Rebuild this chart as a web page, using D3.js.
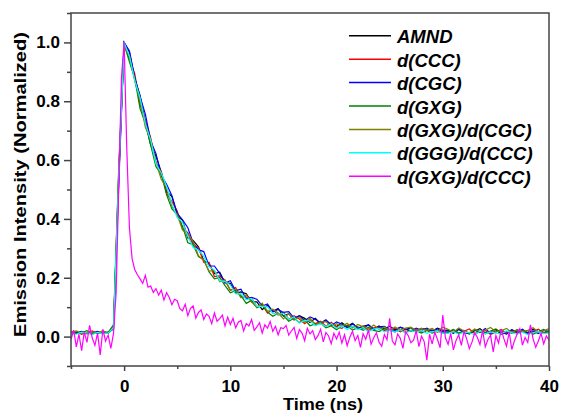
<!DOCTYPE html>
<html>
<head>
<meta charset="utf-8">
<script src="https://cdn.jsdelivr.net/npm/d3@7/dist/d3.min.js"></script>
<style>
body { margin: 0; background: #fff; }
svg text { font-family: "Liberation Sans", Arial, sans-serif; font-weight: bold; fill: #000; }
</style>
</head>
<body>
<div id="chart"></div>
<script>
// time axis (ns) for the six overlapping decays and for the fast magenta one
const tMain = [-5,-4.5,-4,-3.5,-3,-2.5,-2,-1.5,-1,-0.5,0,0.5,1,1.5,2,2.5,3,3.5,4,4.5,5,5.5,6,6.5,7,7.5,8,8.5,9,9.5,10,10.5,11,11.5,12,12.5,13,13.5,14,14.5,15,15.5,16,16.5,17,17.5,18,18.5,19,19.5,20,20.5,21,21.5,22,22.5,23,23.5,24,24.5,25,25.5,26,26.5,27,27.5,28,28.5,29,29.5,30,30.5,31,31.5,32,32.5,33,33.5,34,34.5,35,35.5,36,36.5,37,37.5,38,38.5,39,39.5,40];
const tMag = [-5,-4.75,-4.5,-4.25,-4,-3.75,-3.5,-3.25,-3,-2.75,-2.5,-2.25,-2,-1.75,-1.5,-1.25,-1,-0.75,-0.5,-0.25,
  0,0.25,0.5,0.75,1,1.25,1.5,1.75,2,2.25,2.5,2.75,3,3.25,3.5,3.75,4,4.25,4.5,4.75,
  5,5.25,5.5,5.75,6,6.25,6.5,6.75,7,7.25,7.5,7.75,8,8.25,8.5,8.75,9,9.25,9.5,9.75,
  10,10.25,10.5,10.75,11,11.25,11.5,11.75,12,12.25,12.5,12.75,13,13.25,13.5,13.75,14,14.25,14.5,14.75,
  15,15.25,15.5,15.75,16,16.25,16.5,16.75,17,17.25,17.5,17.75,18,18.25,18.5,18.75,19,19.25,19.5,19.75,
  20,20.25,20.5,20.75,21,21.25,21.5,21.75,22,22.25,22.5,22.75,23,23.25,23.5,23.75,24,24.25,24.5,24.75,
  25,25.25,25.5,25.75,26,26.25,26.5,26.75,27,27.25,27.5,27.75,28,28.25,28.5,28.75,29,29.25,29.5,29.75,
  30,30.25,30.5,30.75,31,31.25,31.5,31.75,32,32.25,32.5,32.75,33,33.25,33.5,33.75,34,34.25,34.5,34.75,
  35,35.25,35.5,35.75,36,36.25,36.5,36.75,37,37.25,37.5,37.75,38,38.25,38.5,38.75,39,39.25,39.5,39.75,40];

// normalized intensity x 1000
const amnd = [15,10,18,12,9,16,13,11, 28,540,1000,
  967,877,820,732,651,614,559,493,476,414, 395,335,327,305,258,247,214,219,183,181,
  147,152,146,118,118,92,106,86,95,69, 78,57,71,62,48,62,44,55,41,34,
  47,34,45,29,35,40,26,36,26,35, 23,32,24,30,20,28,25,19,29,21,
  22,11,25,14,9,20,27,12,17,24,8,15,23,13,19,10,26,16,11,21];
const dCCC = [12,17,8,14,19,10,15,13, 35,560,990,
  944,894,788,735,676,591,561,486,459,427, 367,353,310,302,252,252,204,206,192,157,
  167,134,134,132,101,110,80,92,73,83, 59,71,60,44,57,44,52,35,49,33,
  28,39,34,25,36,21,30,32,20,25, 28,16,24,17,26,15,21,23,15,22,
  14,23,9,18,26,11,15,21,7,16,24,12,19,13,22,9,17,25,12,18];
const dCGC = [9,14,16,11,13,18,10,15, 25,520,1000,
  971,881,816,756,665,622,547,518,479,419, 397,370,318,295,289,240,240,215,182,190,
  156,161,128,133,127,104,111,84,92,82, 85,63,71,54,67,59,46,57,38,50,
  42,30,43,32,27,40,24,33,35,24, 21,31,26,20,29,21,29,19,26,18,
  20,12,24,16,9,22,14,27,11,19,18,8,23,15,25,12,19,10,21,16];
const dGXG = [18,11,13,20,10,12,17,14, 40,580,995,
  934,878,775,725,651,577,552,482,434,415, 374,319,312,272,261,220,196,201,173,149,
  156,139,113,123,98,106,83,69,79,71, 52,62,48,58,37,43,46,30,36,23,
  37,37,22,30,21,32,21,17,27,21, 16,23,14,21,19,12,21,12,18,13,
  16,24,12,20,10,23,17,9,19,26,13,18,11,22,15,20,8,17,24,13];
const dGXG_CGC = [14,19,12,9,16,13,20,11, 32,570,985,
  955,869,802,711,669,592,534,507,442,413, 362,348,323,275,259,223,224,186,192,158,
  161,132,142,117,100,114,86,93,80,60, 78,58,67,48,63,39,49,51,34,44,
  35,45,29,41,33,26,39,25,33,21, 33,22,29,32,20,28,21,28,17,32,
  25,15,29,19,13,26,18,22,31,16,20,28,14,24,18,21,30,15,20,27];
const dGGG_CCC = [11,8,15,13,7,14,10,12, 30,550,1000,
  953,871,812,724,668,587,556,510,451,404, 389,340,303,294,273,237,226,190,187,176,
  145,146,126,130,103,103,101,79,76,79, 59,67,46,55,53,37,44,34,44,28,
  36,24,35,24,30,16,26,28,16,22, 15,23,12,20,15,20,11,17,18,11,
  11,17,8,15,13,6,18,10,16,12,9,19,13,8,15,7,14,17,10,12];
const dGXG_CCC = [-10,22,-35,8,-48,15,-20,38,-5,-30,12,-62,25,-15,5,-40,10,150,520,880,
  1000,640,370,265,228,210,196,181,208,168,172,150,163,141,158,124,149,133,108,127,
  122,95,88,110,71,96,104,63,82,91,58,77,69,44,80,52,61,73,36,66,
  41,62,30,49,55,19,44,36,58,21,33,47,12,40,29,51,18,35,6,30,
  27,38,5,19,31,-6,24,12,-14,28,9,20,-10,3,25,-18,14,2,-24,11,
  -8,15,-22,6,-31,-2,18,-14,4,-37,10,-9,22,-26,-4,13,-19,-33,7,-11,
  62,-15,-28,9,-6,-40,16,3,-21,-12,20,-34,1,-17,-80,8,-25,14,-9,-38,
  73,-4,-26,11,-45,-13,6,-30,18,-8,-41,-19,12,-2,-27,21,-35,-10,4,-52,
  3,-22,24,-7,-33,15,-44,-14,9,27,-29,-3,-20,40,-8,-36,-15,11,-25,2,-12];

const seriesNames = ["AMND", "d(CCC)", "d(CGC)", "d(GXG)", "d(GXG)/d(CGC)", "d(GGG)/d(CCC)", "d(GXG)/d(CCC)"];
const seriesColors = ["#000000", "#ff0000", "#0000ff", "#008000", "#808000", "#00ffff", "#ff00ff"];

const xMajorTicks = [0, 10, 20, 30, 40];
const xMinorTicks = [-5, 5, 15, 25, 35];
const yMajorTicks = [0, 0.2, 0.4, 0.6, 0.8, 1.0];
const yMinorTicks = [-0.1, 0.1, 0.3, 0.5, 0.7, 0.9, 1.1];

class DecayChart {
	constructor(_data){
		this.margin = {top: 13, right: 13, bottom: 48, left: 71};
		this.width = 562 - this.margin.left - this.margin.right;
		this.height = 414 - this.margin.top - this.margin.bottom;
		this.data = _data;
		this.initVis();
	}

	initVis() {
		let vis = this;

		vis.svg = d3.select("#chart").append("svg")
			.attr("width", 562)
			.attr("height", 414)
			.append("g")
			.attr("transform", `translate(${vis.margin.left},${vis.margin.top})`);

		vis.x = d3.scaleLinear().domain([-5, 40]).range([0, vis.width]);
		vis.y = d3.scaleLinear().domain([-0.1, 1.1]).range([vis.height, 0]);

		vis.svg.append("clipPath").attr("id", "clip")
			.append("rect").attr("width", vis.width).attr("height", vis.height);

		vis.lines = vis.svg.append("g").attr("clip-path", "url(#clip)");

		vis.renderVis();
	}

	renderVis() {
		let vis = this;

		let line = d3.line()
			.x(d => vis.x(d[0]))
			.y(d => vis.y(d[1] / 1000));

		vis.lines.selectAll("path")
			.data(vis.data)
			.join("path")
			.attr("d", d => line(d3.zip(d.t, d.v)))
			.attr("fill", "none")
			.attr("stroke", d => d.color)
			.attr("stroke-width", 1.2);

		// frame
		vis.svg.append("rect")
			.attr("width", vis.width)
			.attr("height", vis.height)
			.attr("fill", "none")
			.attr("stroke", "#444")
			.attr("stroke-width", 1.5);

		// axes: minor ticks first, then labelled majors
		let xMinor = vis.svg.append("g").attr("transform", `translate(0,${vis.height})`)
			.call(d3.axisBottom(vis.x).tickValues(xMinorTicks).tickSize(3).tickFormat(""));
		let xMajor = vis.svg.append("g").attr("transform", `translate(0,${vis.height})`)
			.call(d3.axisBottom(vis.x).tickValues(xMajorTicks).tickSize(5).tickPadding(9).tickFormat(d3.format("d")));
		let yMinor = vis.svg.append("g")
			.call(d3.axisLeft(vis.y).tickValues(yMinorTicks).tickSize(4).tickFormat(""));
		let yMajor = vis.svg.append("g")
			.call(d3.axisLeft(vis.y).tickValues(yMajorTicks).tickSize(7).tickPadding(4).tickFormat(d3.format(".1f")));

		[xMinor, xMajor, yMinor, yMajor].forEach(g => {
			g.select(".domain").remove();
			g.selectAll(".tick line").attr("stroke", "#444").attr("stroke-width", 1.5);
			g.selectAll("text").style("font-size", "17px").attr("fill", "#000");
		});

		vis.svg.append("text")
			.attr("x", 252)
			.attr("y", vis.height + 44)
			.attr("textLength", 80)
			.attr("lengthAdjust", "spacingAndGlyphs")
			.style("text-anchor", "middle")
			.style("font-size", "17px")
			.text("Time (ns)");

		vis.svg.append("text")
			.attr("transform", "rotate(-90)")
			.attr("x", -(184.5 - vis.margin.top))
			.attr("y", 26 - vis.margin.left)
			.attr("textLength", 305)
			.attr("lengthAdjust", "spacingAndGlyphs")
			.style("text-anchor", "middle")
			.style("font-size", "17px")
			.text("Emission Intensity (Normalized)");

		// legend
		let legend = vis.svg.append("g")
			.attr("transform", `translate(${349 - vis.margin.left},${43.3 - vis.margin.top})`);
		let rows = legend.selectAll("g")
			.data(vis.data)
			.join("g")
			.attr("transform", (d, i) => `translate(0,${i * 23.4})`);
		rows.append("line")
			.attr("x1", 0).attr("x2", 42)
			.attr("y1", -7.5).attr("y2", -7.5)
			.attr("stroke", d => d.color)
			.attr("stroke-width", 1.5);
		rows.append("text")
			.attr("x", 48)
			.style("font-size", "18.5px")
			.style("font-style", "italic")
			.text(d => d.name);
	}
}

const allValues = [amnd, dCCC, dCGC, dGXG, dGXG_CGC, dGGG_CCC, dGXG_CCC];
const chartData = seriesNames.map((name, i) => ({
	name: name,
	color: seriesColors[i],
	t: i === 6 ? tMag : tMain,
	v: allValues[i]
}));

new DecayChart(chartData);
</script>
</body>
</html>
